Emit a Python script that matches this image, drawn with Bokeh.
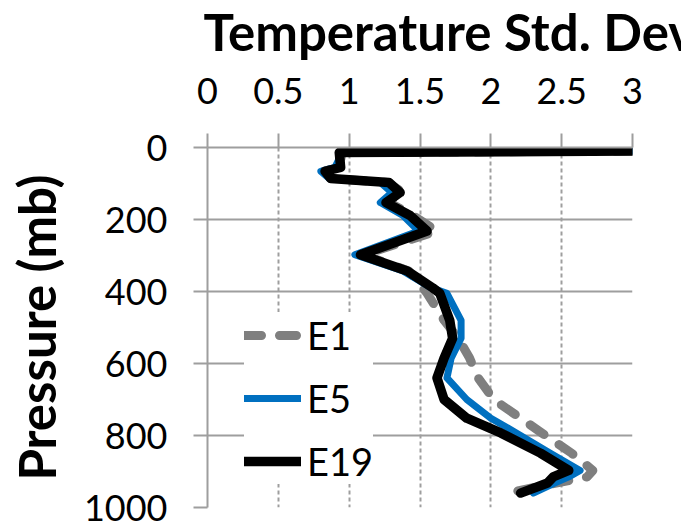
from bokeh.plotting import figure
from bokeh.models import Range1d, FixedTicker, Legend, LegendItem
from bokeh.embed import file_html
from bokeh.resources import INLINE

# ---- data ----
pressure = [10, 14, 55, 66, 86, 97, 125, 153, 189, 232, 298, 343, 390, 405,
            480, 530, 585, 640, 700, 752, 793, 849, 897, 915, 932, 960]
e1 = [3.0, 0.95, 0.93, 0.82, 0.87, 1.27, 1.38, 1.28, 1.45, 1.62, 1.10, 1.42,
      1.52, 1.55, 1.67, 1.77, 1.85, 1.91, 2.02, 2.21, 2.36, 2.57, 2.72, 2.68,
      2.46, 2.12]
e5 = [3.0, 0.95, 0.90, 0.80, 0.86, 1.22, 1.30, 1.22, 1.38, 1.49, 1.04, 1.38,
      1.58, 1.69, 1.79, 1.79, 1.72, 1.69, 1.83, 2.00, 2.18, 2.42, 2.63, 2.55,
      2.45, 2.30]
e19 = [3.0, 0.93, 0.94, 0.83, 0.87, 1.28, 1.36, 1.26, 1.43, 1.55, 1.08, 1.41,
       1.59, 1.64, 1.71, 1.73, 1.67, 1.62, 1.67, 1.83, 2.07, 2.35, 2.55, 2.44,
       2.40, 2.21]
series_names = ["E1", "E5", "E19"]
x_ticks = [0, 0.5, 1, 1.5, 2, 2.5, 3]
x_tick_labels = ["0", "0.5", "1", "1.5", "2", "2.5", "3"]
y_ticks = [0, 200, 400, 600, 800, 1000]
y_tick_labels = ["0", "200", "400", "600", "800", "1000"]
title_text = "Temperature Std. Dev."

FONT = "Lato"
GRID = "#9E9E9E"

# the canvas is 28px taller and pulled up by 28px so that the title sits
# close to the top edge of the window, as in the reference
p = figure(width=681, height=550, output_backend="svg", toolbar_location=None,
           x_range=Range1d(0, 3), y_range=Range1d(1000, 0),
           x_axis_location="above",
           min_border_left=207, min_border_right=49,
           min_border_top=175, min_border_bottom=15,
           title=title_text, margin=(-28, 0, 0, 0))
p.outline_line_color = None
p.background_fill_color = "white"
p.border_fill_color = "white"

p.title.text_font = FONT
p.title.text_font_size = "51px"
p.title.text_font_style = "bold"
p.title.text_color = "black"
p.title.align = "left"
p.title.offset = -4
p.title.standoff = 25

# axes
for ax in (p.xaxis[0], p.yaxis[0]):
    ax.axis_line_color = GRID
    ax.axis_line_width = 2
    ax.major_tick_line_color = GRID
    ax.major_tick_line_width = 2
    ax.major_tick_out = 14
    ax.major_tick_in = 0
    ax.minor_tick_line_color = None
    ax.major_label_text_font = FONT
    ax.major_label_text_font_size = "36px"
    ax.major_label_text_color = "black"

p.xaxis[0].ticker = FixedTicker(ticks=x_ticks)
p.xaxis[0].major_label_overrides = {t: l for t, l in zip(x_ticks, x_tick_labels)}
p.xaxis[0].major_label_standoff = 30
p.yaxis[0].ticker = FixedTicker(ticks=y_ticks)
p.yaxis[0].major_label_overrides = {t: l for t, l in zip(y_ticks, y_tick_labels)}
p.yaxis[0].major_label_standoff = 26
p.yaxis[0].axis_label = "Pressure (mb)"
p.yaxis[0].axis_label_text_font = FONT
p.yaxis[0].axis_label_text_font_size = "51px"
p.yaxis[0].axis_label_text_font_style = "bold"
p.yaxis[0].axis_label_text_color = "black"
p.yaxis[0].axis_label_standoff = 14

# grids
p.xgrid.ticker = FixedTicker(ticks=x_ticks)
p.xgrid.grid_line_color = GRID
p.xgrid.grid_line_width = 2
p.xgrid.grid_line_dash = "4 3"
p.ygrid.ticker = FixedTicker(ticks=y_ticks)
p.ygrid.grid_line_color = GRID
p.ygrid.grid_line_width = 2

# lines
r1 = p.line(x=e1, y=pressure, line_color="#7F7F7F", line_width=9,
            line_dash="17 18", line_cap="round", line_join="round")
r5 = p.line(x=e5, y=pressure, line_color="#0070C0", line_width=7,
            line_cap="round", line_join="round")
r19 = p.line(x=e19, y=pressure, line_color="#000000", line_width=9.5,
             line_cap="round", line_join="round")

legend = Legend(items=[LegendItem(label=series_names[0], renderers=[r1]),
                       LegendItem(label=series_names[1], renderers=[r5]),
                       LegendItem(label=series_names[2], renderers=[r19])],
                location=(37, 23))
legend.background_fill_color = "white"
legend.background_fill_alpha = 1.0
legend.border_line_color = None
legend.label_text_font = FONT
legend.label_text_font_size = "38px"
legend.label_text_color = "black"
legend.glyph_width = 57
legend.glyph_height = 40
legend.label_height = 40
legend.spacing = 17
legend.padding = 20
legend.margin = 0
legend.label_standoff = 6
p.add_layout(legend)

open("out.html", "w").write(file_html(p, INLINE))
